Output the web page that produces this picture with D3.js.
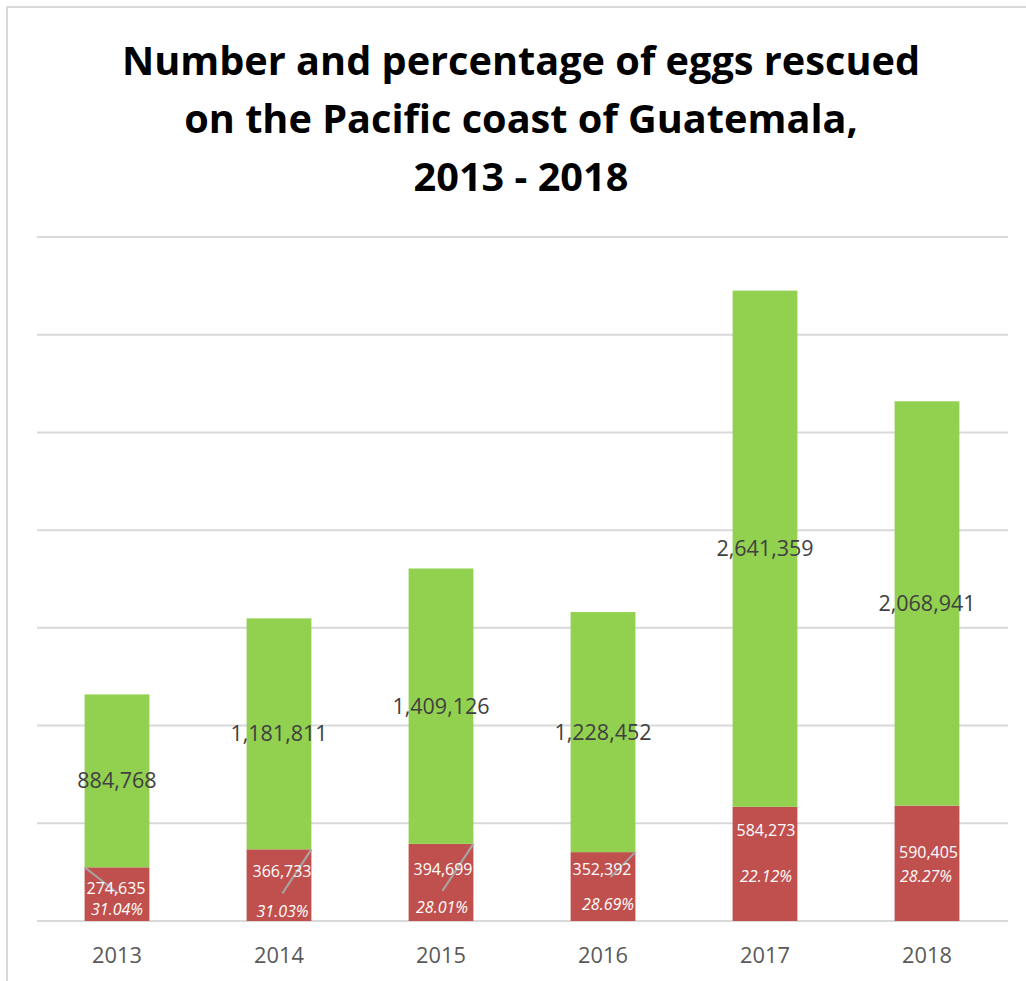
<!DOCTYPE html>
<html>
<head>
<meta charset="utf-8">
<script src="https://cdn.jsdelivr.net/npm/d3@7"></script>
<style>
  html, body { margin: 0; padding: 0; background: #fff; }
  svg { display: block; }
</style>
</head>
<body>
<svg id="chart" width="1026" height="981"></svg>
<script>
// ---- data ----
const years = ["2013", "2014", "2015", "2016", "2017", "2018"];
const rescued = [274635, 366733, 394699, 352392, 584273, 590405];
const notRescued = [884768, 1181811, 1409126, 1228452, 2641359, 2068941];
const percentLabels = ["31.04%", "31.03%", "28.01%", "28.69%", "22.12%", "28.27%"];
const yTicks = [0, 500000, 1000000, 1500000, 2000000, 2500000, 3000000, 3500000];
const titleLines = ["Number and percentage of eggs rescued", "on the Pacific coast of Guatemala,", "2013 - 2018"];

// ---- layout (manual label nudges, as placed in the original) ----
const valueNudge = [[-1, -6], [3, -14], [2, -13], [-1, -17], [1, -34], [1.5, -11]];
const pctNudge = [[0, 15], [3.5, 26], [1, 25], [5, 18], [1, 12], [-1, 13]];
// leader lines: [corner side, end dx from bar centre, end dy from red-segment top]
const leaders = [["left", 1, 26], ["right", 3.4, 44], ["right", 1.4, 47], ["right", 7.4, 25], null, null];

const svg = d3.select("#chart");
const W = 1026, H = 981;

// outer border
svg.append("rect").attr("x", 7).attr("y", 7).attr("width", 1200).attr("height", 1200)
  .attr("fill", "none").attr("stroke", "#d9d9d9").attr("stroke-width", 2);

const x = d3.scaleBand().domain(years).range([36, 1008]).paddingInner(0.6).paddingOuter(0.3);
const y = d3.scaleLinear().domain([0, 3500000]).range([921, 237]);

// gridlines
svg.append("g").selectAll("line").data(yTicks).join("line")
  .attr("x1", 37).attr("x2", 1008)
  .attr("y1", d => y(d)).attr("y2", d => y(d))
  .attr("stroke", "#d9d9d9").attr("stroke-width", 2);

// stacked data
const rows = years.map((yr, i) => ({ year: yr, rescued: rescued[i], notRescued: notRescued[i], pct: percentLabels[i], i }));
const stack = d3.stack().keys(["rescued", "notRescued"])(rows);
const colors = { rescued: "#c0504d", notRescued: "#92d050" };

svg.append("g").selectAll("g").data(stack).join("g")
  .attr("fill", s => colors[s.key])
  .selectAll("rect").data(s => s).join("rect")
  .attr("x", d => x(d.data.year))
  .attr("width", x.bandwidth())
  .attr("y", d => y(d[1]))
  .attr("height", d => y(d[0]) - y(d[1]));

// x axis labels
const xAxis = svg.append("g").attr("transform", "translate(0,921)")
  .call(d3.axisBottom(x).tickSize(0).tickPadding(0));
xAxis.select(".domain").remove();
xAxis.selectAll("text")
  .attr("y", 42).attr("dy", null)
  .attr("font-family", "'Open Sans', sans-serif").attr("font-size", 21.8)
  .attr("fill", "#595959");

// leader lines
const cx = d => x(d.year) + x.bandwidth() / 2;
svg.append("g").selectAll("line").data(rows.filter(d => leaders[d.i])).join("line")
  .attr("x1", d => leaders[d.i][0] === "left" ? x(d.year) : x(d.year) + x.bandwidth())
  .attr("y1", d => y(d.rescued))
  .attr("x2", d => cx(d) + leaders[d.i][1])
  .attr("y2", d => y(d.rescued) + leaders[d.i][2])
  .attr("stroke", "#a6a6a6").attr("stroke-width", 2);

// green value labels
svg.append("g").selectAll("text").data(rows).join("text")
  .attr("x", d => cx(d))
  .attr("y", d => (y(d.rescued) + y(d.rescued + d.notRescued)) / 2 + 7.6)
  .attr("text-anchor", "middle")
  .attr("font-family", "'Open Sans', sans-serif").attr("font-size", 21.5)
  .attr("fill", "#404040")
  .text(d => d3.format(",")(d.notRescued));

// red value labels
const redMid = d => (y(0) + y(d.rescued)) / 2;
svg.append("g").selectAll("text").data(rows).join("text")
  .attr("x", d => cx(d) + valueNudge[d.i][0])
  .attr("y", d => redMid(d) + valueNudge[d.i][1] + 5.7)
  .attr("text-anchor", "middle")
  .attr("font-family", "'Open Sans', sans-serif").attr("font-size", 16)
  .attr("fill", "#ffffff")
  .text(d => d3.format(",")(d.rescued));

// percentage labels
svg.append("g").selectAll("text").data(rows).join("text")
  .attr("x", d => cx(d) + pctNudge[d.i][0])
  .attr("y", d => redMid(d) + pctNudge[d.i][1] + 5.7)
  .attr("text-anchor", "middle")
  .attr("font-family", "'Open Sans', sans-serif").attr("font-size", 16)
  .attr("font-style", "italic")
  .attr("fill", "#ffffff")
  .text(d => d.pct);

// title
const title = svg.append("g");
const baselines = [75, 133, 191];
const tEls = title.selectAll("text").data(titleLines).join("text")
  .attr("x", 521).attr("y", (d, i) => baselines[i])
  .attr("text-anchor", "middle")
  .attr("font-family", "'Open Sans', sans-serif").attr("font-weight", "bold")
  .attr("font-size", 38.5).attr("fill", "#000")
  .text(d => d);
// Calibri is narrower than Open Sans: compress horizontally to match the original line width
const w0 = tEls.nodes()[0].getComputedTextLength();
const factor = 798 / w0;
tEls.each(function () {
  const w = this.getComputedTextLength();
  d3.select(this).attr("textLength", w * factor).attr("lengthAdjust", "spacingAndGlyphs");
});
</script>
</body>
</html>
